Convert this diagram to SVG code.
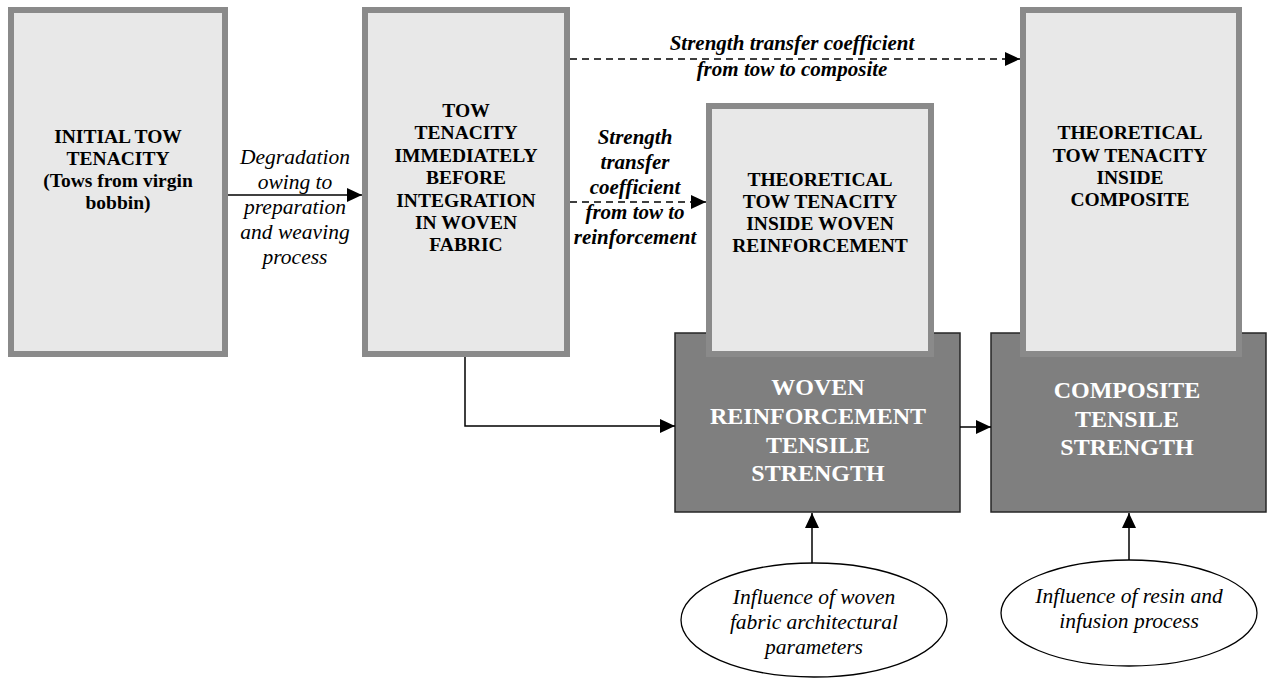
<svg xmlns="http://www.w3.org/2000/svg" width="1269" height="679" viewBox="0 0 1269 679">
  <style>
    .light { fill: #e8e8e8; stroke: #8a8a8a; stroke-width: 6; }
    .dark { fill: #7f7f7f; stroke: #262626; stroke-width: 1.5; }
    .oval { fill: #ffffff; stroke: #000000; stroke-width: 1.3; }
    .t { font-family: "Liberation Serif", "Times New Roman", serif; text-anchor: middle; fill: #000000; }
    .tb { font-weight: bold; font-size: 19.5px; }
    .tw { font-weight: bold; font-size: 24px; fill: #ffffff; }
    .ti { font-style: italic; font-size: 21.5px; }
    .tbi { font-style: italic; font-weight: bold; font-size: 21px; }
    .line { fill: none; stroke: #000000; stroke-width: 1.5; }
    .dash { fill: none; stroke: #000000; stroke-width: 1.5; stroke-dasharray: 7 5; }
  </style>
  <defs>
    <marker id="arrow" markerUnits="userSpaceOnUse" markerWidth="16" markerHeight="16" refX="15" refY="8" orient="auto">
      <path d="M0,1 L15,8 L0,15 Z" fill="#000000"/>
    </marker>
  </defs>

  <rect width="1269" height="679" fill="#ffffff"/>

  <!-- tow tenacity before weaving -->
  <g id="initial-tow">
    <rect class="light" x="11" y="10" width="214" height="344"/>
    <text class="t tb" x="118" y="143">INITIAL TOW</text>
    <text class="t tb" x="118" y="165">TENACITY</text>
    <text class="t tb" x="118" y="187">(Tows from virgin</text>
    <text class="t tb" x="118" y="209">bobbin)</text>
  </g>

  <g id="tow-before-integration">
    <rect class="light" x="365" y="10" width="202" height="344"/>
    <text class="t tb" x="466" y="117">TOW</text>
    <text class="t tb" x="466" y="139">TENACITY</text>
    <text class="t tb" x="466" y="162">IMMEDIATELY</text>
    <text class="t tb" x="466" y="184">BEFORE</text>
    <text class="t tb" x="466" y="207">INTEGRATION</text>
    <text class="t tb" x="466" y="229">IN WOVEN</text>
    <text class="t tb" x="466" y="251">FABRIC</text>
  </g>

  <!-- measured strengths -->
  <g id="woven-strength">
    <rect class="dark" x="675" y="333" width="285" height="179"/>
    <text class="t tw" x="818" y="395">WOVEN</text>
    <text class="t tw" x="818" y="424">REINFORCEMENT</text>
    <text class="t tw" x="818" y="453">TENSILE</text>
    <text class="t tw" x="818" y="481">STRENGTH</text>
  </g>

  <g id="composite-strength">
    <rect class="dark" x="991" y="333" width="275" height="179"/>
    <text class="t tw" x="1127" y="398">COMPOSITE</text>
    <text class="t tw" x="1127" y="427">TENSILE</text>
    <text class="t tw" x="1127" y="455">STRENGTH</text>
  </g>

  <!-- theoretical tenacities, overlapping the strength boxes -->
  <g id="theoretical-woven">
    <rect class="light" x="709" y="106" width="222" height="248"/>
    <text class="t tb" x="820" y="186">THEORETICAL</text>
    <text class="t tb" x="820" y="208">TOW TENACITY</text>
    <text class="t tb" x="820" y="230">INSIDE WOVEN</text>
    <text class="t tb" x="820" y="252">REINFORCEMENT</text>
  </g>

  <g id="theoretical-composite">
    <rect class="light" x="1023" y="10" width="216" height="344"/>
    <text class="t tb" x="1130" y="139">THEORETICAL</text>
    <text class="t tb" x="1130" y="162">TOW TENACITY</text>
    <text class="t tb" x="1130" y="184">INSIDE</text>
    <text class="t tb" x="1130" y="206">COMPOSITE</text>
  </g>

  <!-- influences -->
  <g id="woven-influence">
    <ellipse class="oval" cx="814" cy="620" rx="133" ry="57"/>
    <text class="t ti" x="814" y="604">Influence of woven</text>
    <text class="t ti" x="814" y="629">fabric architectural</text>
    <text class="t ti" x="814" y="654">parameters</text>
  </g>

  <g id="resin-influence">
    <ellipse class="oval" cx="1129" cy="613" rx="128" ry="53"/>
    <text class="t ti" x="1129" y="603">Influence of resin and</text>
    <text class="t ti" x="1129" y="628">infusion process</text>
  </g>

  <g id="connectors">
    <line class="line" x1="228" y1="195" x2="362" y2="195" marker-end="url(#arrow)"/>
    <path class="dash" d="M570,59 H1020" marker-end="url(#arrow)"/>
    <path class="dash" d="M570,202 H706" marker-end="url(#arrow)"/>
    <path class="line" d="M465,357 V426 H675" marker-end="url(#arrow)"/>
    <line class="line" x1="960" y1="427" x2="991" y2="427" marker-end="url(#arrow)"/>
    <line class="line" x1="812" y1="563" x2="812" y2="513" marker-end="url(#arrow)"/>
    <line class="line" x1="1129" y1="560" x2="1129" y2="513" marker-end="url(#arrow)"/>

    <text class="t ti" x="295" y="164">Degradation</text>
    <text class="t ti" x="295" y="189">owing to</text>
    <text class="t ti" x="295" y="214">preparation</text>
    <text class="t ti" x="295" y="239">and weaving</text>
    <text class="t ti" x="295" y="264">process</text>

    <text class="t tbi" x="792" y="50">Strength transfer coefficient</text>
    <text class="t tbi" x="792" y="76">from tow to composite</text>

    <text class="t tbi" x="635" y="144">Strength</text>
    <text class="t tbi" x="635" y="169">transfer</text>
    <text class="t tbi" x="635" y="194">coefficient</text>
    <text class="t tbi" x="635" y="219">from tow to</text>
    <text class="t tbi" x="635" y="244">reinforcement</text>
  </g>
</svg>
